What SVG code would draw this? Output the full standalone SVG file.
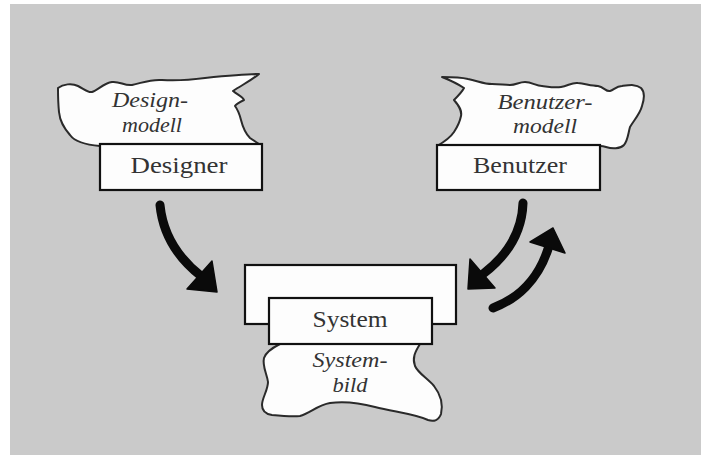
<svg xmlns="http://www.w3.org/2000/svg" width="701" height="455" viewBox="0 0 701 455">
  <style>
    .cloud { fill: #fdfdfd; stroke: #2a2a2a; stroke-width: 2; stroke-linejoin: round; }
    .box { fill: #fdfdfd; stroke: #111; stroke-width: 2.2; }
    .it { font-family: "Liberation Serif", "Times New Roman", serif; font-style: italic; font-size: 20px; fill: #333; text-anchor: middle; }
    .up { font-family: "Liberation Serif", "Times New Roman", serif; font-size: 23px; fill: #333; text-anchor: middle; }
    .shaft { fill: none; stroke: #0a0a0a; stroke-width: 9; stroke-linecap: round; }
    .head { fill: #0a0a0a; stroke: #0a0a0a; stroke-width: 1.5; stroke-linejoin: round; }
  </style>

  <!-- page background -->
  <rect x="0" y="0" width="701" height="455" fill="#ffffff"/>
  <rect x="10" y="4" width="691" height="451" fill="#cacaca"/>

  <!-- designer with mental model -->
  <g id="designer">
    <path class="cloud" d="M 100,146 C 88,145 75,142 70,135 C 64,128 60,122 59,112 C 58,102 58,94 58,88 C 63,84 72,83 78,86 C 84,89 88,93 92,92 C 98,90 104,83 112,82 C 120,81 124,86 132,85 C 142,83 150,79 162,80 C 178,81 190,80 205,78 C 225,76 245,74 259,74 C 252,80 242,85 233,91 C 238,95 243,97 244,100 C 240,102 236,104 235,106 C 238,110 240,116 241,120 C 243,128 246,134 250,138 C 254,141 258,143 262,146 Z"/>
    <text class="it" x="150" y="107" textLength="76" lengthAdjust="spacingAndGlyphs">Design-</text>
    <text class="it" x="152" y="132" textLength="60" lengthAdjust="spacingAndGlyphs">modell</text>
    <rect class="box" x="100" y="144" width="162" height="46"/>
    <text class="up" x="179" y="173" textLength="97" lengthAdjust="spacingAndGlyphs">Designer</text>
  </g>

  <!-- user with mental model -->
  <g id="benutzer">
    <path class="cloud" d="M 437,146 C 444,142 450,138 454,132 C 458,126 460,121 461,116 C 462,111 460,107 454,100 C 458,96 462,92 464,88 C 458,84 452,81 442,77 C 452,77 460,77 468,79 C 478,81 484,84 492,84 C 500,84 504,85 510,85 C 516,85 519,82 525,82 C 532,82 536,86 542,86 C 550,87 555,88 561,87 C 568,86 572,82 578,83 C 586,84 592,86 598,86 C 604,87 606,92 610,91 C 614,90 616,86 622,86 C 630,85 636,84 641,88 C 645,92 644,100 642,106 C 640,114 634,120 630,127 C 628,134 628,140 624,145 C 620,149 612,149 606,147 C 603,146 601,146 600,146 Z"/>
    <text class="it" x="545" y="109" textLength="95" lengthAdjust="spacingAndGlyphs">Benutzer-</text>
    <text class="it" x="545" y="133" textLength="64" lengthAdjust="spacingAndGlyphs">modell</text>
    <rect class="box" x="437" y="145" width="163" height="45"/>
    <text class="up" x="520" y="173" textLength="94" lengthAdjust="spacingAndGlyphs">Benutzer</text>
  </g>

  <!-- system with system image -->
  <g id="system">
    <rect class="box" x="245" y="265" width="211" height="59"/>
    <path class="cloud" d="M 280,344 C 272,348 266,352 264,358 C 262,366 267,374 268,382 C 268,390 262,398 262,405 C 262,411 265,414 272,415 C 282,416 292,417 300,416 C 310,413 318,405 330,403 C 345,401 360,403 375,407 C 395,412 415,414 428,420 C 434,422 439,420 441,414 C 443,405 441,395 434,386 C 427,378 418,373 415,366 C 412,358 415,352 420,344 Z"/>
    <text class="it" x="350" y="367" textLength="75" lengthAdjust="spacingAndGlyphs">System-</text>
    <text class="it" x="350" y="392" textLength="35" lengthAdjust="spacingAndGlyphs">bild</text>
    <rect class="box" x="269" y="298" width="163" height="46"/>
    <text class="up" x="350" y="327" textLength="75" lengthAdjust="spacingAndGlyphs">System</text>
  </g>

  <!-- curved arrows -->
  <g id="connectors">
    <path class="shaft" d="M 160,205 C 163,235 178,258 201,276"/>
    <polygon class="head" points="212,261 217,292 187,289"/>

    <path class="shaft" d="M 523,203 C 522,232 508,255 483,274"/>
    <polygon class="head" points="470,259 468,289 495,288"/>

    <path class="shaft" d="M 493,308 C 517,299 538,280 548,249"/>
    <polygon class="head" points="530,242 553,228 565,253"/>
  </g>
</svg>
